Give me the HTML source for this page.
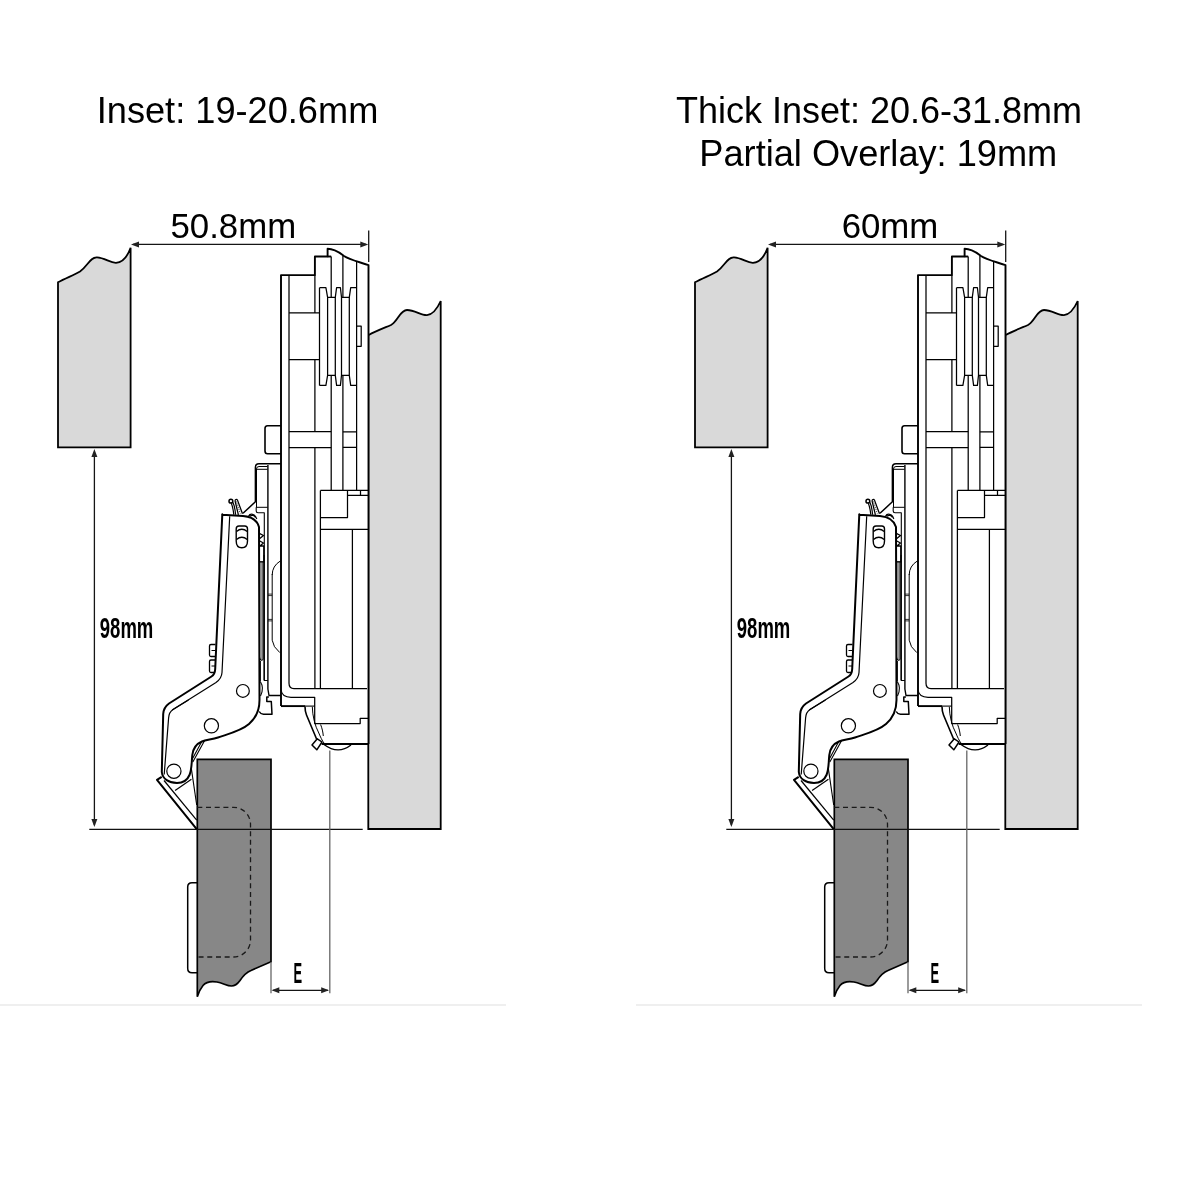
<!DOCTYPE html>
<html><head><meta charset="utf-8"><title>Hinge</title>
<style>
html,body{margin:0;padding:0;background:#fff;width:1200px;height:1200px;overflow:hidden}
svg{display:block}
text{font-family:"Liberation Sans",sans-serif}
</style></head><body>
<svg style="filter:grayscale(1)" width="1200" height="1200" viewBox="0 0 1200 1200">
<rect width="1200" height="1200" fill="#fff"/>
<!-- faint baseline -->
<rect x="0" y="1004" width="506" height="2" fill="#efefef"/>
<rect x="636" y="1004" width="506" height="2" fill="#efefef"/>

<!-- titles -->
<text x="237.5" y="122.5" font-size="36.2" text-anchor="middle" fill="#000">Inset: 19-20.6mm</text>
<text x="879" y="123.2" font-size="36" text-anchor="middle" fill="#000">Thick Inset: 20.6-31.8mm</text>
<text x="878.3" y="166.3" font-size="36.2" text-anchor="middle" fill="#000">Partial Overlay: 19mm</text>
<text x="233.3" y="237.5" font-size="34.8" text-anchor="middle" fill="#000">50.8mm</text>
<text x="890" y="237.5" font-size="34.8" text-anchor="middle" fill="#000">60mm</text>

<g id="dg">
  <!-- left panel -->
  <path d="M58,447.4 L58,282.3 C66,278 74,275 80,271.5 C88,266 90,257 97,257.4 C105,257.8 110,263 116,262.8 C123,262.5 128,255 130.6,247.7 L130.6,447.4 Z" fill="#d9d9d9" stroke="#000" stroke-width="1.8"/>
  <!-- right panel -->
  <path d="M368.3,829 L368.3,335.2 C376,331 384,328 391,325 C398,321 400,310 407,310 C415,310 421,315.5 427,315.1 C434,314.5 438,307 440.7,301 L440.7,829 Z" fill="#d9d9d9" stroke="#000" stroke-width="1.8"/>
  <!-- door -->
  <path d="M197.3,996.7 L197.3,759.3 L271,759.3 L271,961.7 L251,970.5 C246,972.5 243,976 240,980.5 C237.5,984 235,986 231.5,986 C227,986 223,983 217,982 C211,981 206,982 203,985.5 C200.5,988.5 198.5,993 197.3,996.7 Z" fill="#878787" stroke="#000" stroke-width="1.7"/>
  <!-- dashed cup -->
  <path d="M197.3,807.3 L233.5,807.3 A17,17 0 0 1 250.5,824.3 L250.5,940 A17,17 0 0 1 233.5,957 L197.3,957" fill="none" stroke="#1a1a1a" stroke-width="1.3" stroke-dasharray="5,3.7"/>
  <!-- handle tab -->
  <path d="M197.3,882.7 L192,882.7 Q187.7,882.7 187.7,887 L187.7,968.5 Q187.7,972.7 192,972.7 L197.3,972.7" fill="none" stroke="#000" stroke-width="1.5"/>

  <!-- dimension 50.8 -->
  <line x1="133" y1="244.4" x2="366" y2="244.4" stroke="#151515" stroke-width="1.3"/>
  <path d="M131,244.4 L139,241.4 L139,247.4 Z" fill="#222"/>
  <path d="M368.3,244.4 L360.3,241.4 L360.3,247.4 Z" fill="#222"/>
  <line x1="368.7" y1="230.5" x2="368.7" y2="262" stroke="#151515" stroke-width="1.3"/>

  <!-- 98mm vertical -->
  <line x1="94.4" y1="452" x2="94.4" y2="825" stroke="#151515" stroke-width="1.3"/>
  <path d="M94.4,449 L91.4,457 L97.4,457 Z" fill="#222"/>
  <path d="M94.4,827 L91.4,819 L97.4,819 Z" fill="#222"/>
  <line x1="89.3" y1="829.3" x2="362.7" y2="829.3" stroke="#111" stroke-width="1.3"/>
  <text x="99.8" y="637.5" font-size="29" font-weight="bold" textLength="53.5" lengthAdjust="spacingAndGlyphs" fill="#000">98mm</text>

  <!-- E dimension -->
  <line x1="271" y1="962" x2="271" y2="993.3" stroke="#666" stroke-width="1.3"/>
  <line x1="329.8" y1="750.5" x2="329.8" y2="993.3" stroke="#666" stroke-width="1.3"/>
  <line x1="273" y1="990.3" x2="328" y2="990.3" stroke="#151515" stroke-width="1.3"/>
  <path d="M271.5,990.3 L279.3,987.3 L279.3,993.3 Z" fill="#222"/>
  <path d="M329,990.3 L321.2,987.3 L321.2,993.3 Z" fill="#222"/>
  <text x="293.6" y="982.8" font-size="28.8" font-weight="bold" textLength="8.6" lengthAdjust="spacingAndGlyphs" fill="#000">E</text>

  <!-- HINGE -->
  
  <g id="hinge" fill="none" stroke="#000" stroke-linejoin="round" stroke-linecap="butt">
    <!-- white backing for hinge plate -->
    <path d="M281,706 L281,275.1 L314.9,275.1 L314.9,256.5 L327.6,256.5 L327.6,248.7 C335,248.7 340,253 344,256 C350,260 360,262 368.5,265.2 L368.5,744 L321.7,744 L305.3,706 Z" fill="#fff" stroke="none"/>
    <!-- outer thick contour -->
    <path d="M281,706.1 L281,275.1 L314.9,275.1 L314.9,256.5 L327.6,256.5 L327.6,248.7 C335,248.7 340,253 344,256 C350,260 360,262 368.5,265.2 L368.5,744" stroke-width="1.9"/>
    <path d="M327.6,256.5 L331.2,256.5" stroke-width="1.9"/>
    <path d="M281,706.1 L305.3,706.1" stroke-width="1.9"/>
    <path d="M305.3,706.1 L314.7,706.1" stroke-width="1.1"/>
    <!-- thin internal lines -->
    <g stroke-width="1.25">
      <path d="M289,276 L289,683.3 Q289,688.6 294,688.6 L367,688.6"/>
      <path d="M314.9,275.1 L314.9,312.9 M314.9,359.7 L314.9,431.7 M314.9,447.6 L314.9,688.6"/>
      <path d="M289,312.9 L319.5,312.9 M289,359.7 L319.5,359.7"/>
      <path d="M289,431.7 L331.2,431.7 M289,447.6 L331.2,447.6"/>
      <path d="M342.9,431.9 L356.6,431.9 M342.9,447.3 L356.6,447.3"/>
      <!-- pulley -->
      <path d="M319.5,287.7 L325.9,287.7 L327.6,297.3 L335.3,297.3 L336.6,287.7 L340.4,287.7 L341.5,297.3 L349.3,297.3 L350.7,287.7 L356.6,287.7"/>
      <path d="M319.5,385.4 L325.9,385.4 L327.6,375.3 L335.3,375.3 L336.6,385.4 L340.4,385.4 L341.5,375.3 L349.3,375.3 L350.7,385.4 L356.6,385.4"/>
      <path d="M319.5,287.7 L319.5,385.4 M327.6,297.3 L327.6,375.3 M335.3,297.3 L335.3,375.3 M341.5,297.3 L341.5,375.3 M349.3,297.3 L349.3,375.3"/>
      <path d="M331.2,256.5 L331.2,297.3 M331.2,375.3 L331.2,490.4"/>
      <path d="M342.9,255.6 L342.9,297.3 M342.9,375.3 L342.9,490.4"/>
      <path d="M356.6,261.5 L356.6,490.4"/>
      <path d="M356.6,326.2 L361.2,326.2 L361.2,346.3 L356.6,346.3"/>
      <!-- lower block -->
      <path d="M320.4,490.4 L368,490.4 M320.4,490.4 L320.4,688.6 M347.5,490.4 L347.5,517.5 L320.4,517.5"/>
      <path d="M347.5,495.3 L368,495.3 M360.5,490.4 L360.5,495.3"/>
      <path d="M320.4,529.4 L368,529.4 M352.4,529.4 L352.4,688.6"/>
      <!-- base lower -->
      <path d="M281,690 Q282,697.3 291,697.3 L314.7,697.3 L314.7,723.6 L360.2,723.6 L360.2,718.3 L368,718.3"/>
      <path d="M321.7,744 L368,744" stroke-width="2"/>
      <path d="M324,744.5 Q338,755 351,745" stroke-width="1.4"/>
      <!-- clip -->
      <path d="M305,706.5 C305,710 305.3,712 306.5,715 L316.8,739.5" stroke-width="1.6"/>
      <path d="M312.3,706.8 C312.5,716 315,726 318.8,733 C320.5,737 322,740.5 324.5,743.8" stroke-width="1"/>
      <path d="M320.6,724.5 C322,728 323,732 323.3,736" stroke-width="1"/>
      <path d="M312,745 L317.3,738.8 L322,742 L316.8,749.8 Z" fill="#fff" stroke-width="1.5"/>
      <!-- left tab -->
      <path d="M281,425.8 L267.5,425.8 Q265,425.8 265,428.5 L265,451 Q265,453.7 267.5,453.7 L281,453.7" stroke-width="1.6"/>
    </g>

    <!-- arm-side bracket above arm -->
    <g stroke-width="1.5">
      <path d="M281,463.8 L259,463.8 Q255.4,463.8 255.4,467.5 L255.4,501.8 L243,513.3"/>
      <path d="M267.5,466.5 L259,466.5 Q256.5,466.5 256.5,469 L256.5,507.3 M256.5,469.3 L267.5,469.3" stroke-width="1"/>
      <path d="M256,507.3 L267.7,507.3" stroke-width="1"/>
      <path d="M256.2,507.3 L256.2,511 Q256.2,512.7 258,512.7 L264.3,512.7 L264.3,680.5 L267.9,680.5" stroke-width="1.1"/>
      <path d="M267.9,465 L267.9,689" stroke-width="1.4"/>
      <path d="M272.2,575 Q272.2,566 280.3,561 M272.2,574 L272.2,640.2 Q273,647 279.8,652.6" stroke-width="1"/>
      <path d="M268,594.1 L272.2,594.1 M268,595.6 L272.2,595.6 M268,619.4 L272.2,619.4 M268,620.9 L272.2,620.9" stroke-width="0.8"/>
    </g>

    <!-- arm -->
    <path d="M222.2,514.8 L243,515.9 C251,516.5 257,520 259,527 L259.5,700 C259.5,710 256,718 249,724 C241,731 228,734 218,737.5 C212,739.5 206,739.8 202,741.5 C196,744 193,749 192.3,755 C191.5,762 192,769 189.5,775 C187,781 182,783 177,783 C169,783 162.5,779 161.8,772 L163.2,714 C163.5,709 165.5,706 169,703.5 L211.5,676.5 C214,675 215,673 215.2,669 L222.3,514.3 Z" fill="#fff" stroke-width="2"/>
    <g stroke-width="1.2">
      <path d="M229.7,516.3 L222,672.5 C221.8,677 219.5,680 216,682.5 L173,709.5 C170,711.5 168.8,714 168.6,718 L164.2,774.5"/>
      <path d="M188.5,700 L172.2,709.9"/>
      <circle cx="242.9" cy="690.9" r="6.4"/>
      <circle cx="211.4" cy="725.8" r="7.1"/>
      <circle cx="173.9" cy="771.2" r="7.1"/>
      <!-- slot -->
      <path d="M239,526 L244.8,526 Q247.5,526 247.5,529 L247.5,541 Q247.5,547.7 241.8,547.7 Q236.2,547.7 236.2,541 L236.2,529 Q236.2,526 239,526 Z" stroke-width="1.4"/>
      <path d="M236.5,531.5 Q241.8,527 247.2,531.5 M236.5,539.5 Q241.8,535 247.2,539.5" stroke-width="1.4"/>
      <!-- teeth & right double line -->
      <path d="M259.3,533.3 L263.5,535.5 L259.8,538.5 M259.8,541 L263.5,543 L259.8,546 L263.8,546 L263.8,562 L259.8,562" stroke-width="1.3"/>
            <path d="M264.1,555 L264.1,680.3"/>
    </g>
    <g stroke-width="1.3" fill="none">
      <path d="M215.5,644.5 L211,644.5 Q209.5,644.5 209.5,646 L209.5,655 Q209.5,656.5 211,656.5 L215.5,656.5"/>
      <path d="M211.5,650.5 L215.5,650.5" stroke-width="1"/>
      <path d="M215.2,660 L211,660 Q209.5,660 209.5,661.5 L209.5,671 Q209.5,672.5 211,672.5 L214.7,672.5"/>
      <path d="M211.5,666 L215.2,666" stroke-width="1"/>
    </g>
    <!-- arm end notch near plate -->
    <g stroke-width="1.5">
      <path d="M259.6,562 L259.6,657 Q260.5,662 263.2,659.5 L263.2,562 Z" fill="#9a9a9a" stroke-width="1"/>
      <path d="M267.9,689 L269,695.5 L281,695.5" stroke-width="1.4"/>
      <path d="M268.9,697 L266.8,697 L266.8,701.5 L271.3,701.5 L272,714.3 L263.5,714.3 Q260.5,714 259.2,711.5" stroke-width="1.5"/>
      <path d="M260.3,661 L260.3,681 M260.3,681.5 Q264.5,688 260.5,696" stroke-width="1.1"/>
    </g>
    <!-- spring wires -->
    <g stroke-width="1.3">
      <circle cx="230.9" cy="501.2" r="1.9" stroke-width="1.5"/>
      <path d="M231.3,503.2 C232.5,506 233.3,510 233.8,514.8 M233,502.6 C234.3,505.5 235.2,510 235.6,514.8" stroke-width="1.2"/>
      <path d="M235,500.6 C235.3,499.6 236.3,499.2 237.3,499.6 M235,500.6 L238.4,514.8 M237.3,499.6 L242.5,513.8" stroke-width="1.3"/>
      <path d="M236.4,501.5 L240.3,513.5" stroke-width="0.8" stroke-dasharray="1,1"/>
      <path d="M248.5,516.3 C250,513.2 255,513.2 256.8,519 M250,516.2 C252,514.8 254,515.2 255.5,517.5" stroke-width="1.2"/>
    </g>
    <!-- link strap between arm and door bracket -->
    <g stroke-width="1.1">
      <path d="M204.8,740.3 L192.8,762 M201.5,742 L191.8,760"/>
      <path d="M191.4,768.8 L196.7,805"/>
    </g>
    <!-- door bracket triangle -->
    <g stroke-width="1.2">
      <path d="M161.7,776.8 L157,779.9 L196.7,829.2" stroke-width="2"/>
      <path d="M164,780.5 L196.7,820.2"/>
      <path d="M175.1,790.4 L191.4,779.3"/>
    </g>
  </g>
</g>
<use href="#dg" transform="translate(637,0)"/>
</svg>
</body></html>
